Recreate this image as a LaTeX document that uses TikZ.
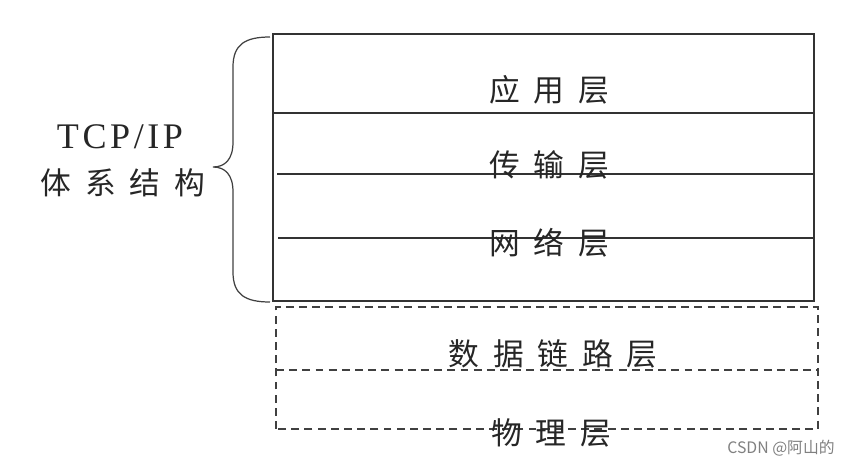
\documentclass[tikz,border=0pt]{standalone}
\usepackage{fontspec}
\setmainfont{Liberation Serif}
\newfontfamily\cjk[LetterSpace=45]{Noto Sans CJK SC}
\newfontfamily\latinsp[LetterSpace=10]{Liberation Serif}
\newfontfamily\markfont{Noto Sans CJK SC}
\usetikzlibrary{positioning}

\tikzset{
    layer/.style={font=\cjk\fontsize{17.5}{20}\selectfont, text=black!85, inner sep=0pt},
    boxline/.style={draw=black!80, line width=0.8pt},
    dashline/.style={draw=black!75, line width=0.7pt, dash pattern=on 4.5pt off 3pt},
}

\begin{document}
\begin{tikzpicture}
        \useasboundingbox (0,0) rectangle (17.28,9.34);
        % TCP/IP part
        \draw[boxline] (5.46,3.32) rectangle (16.28,8.66);
        \draw[boxline] (5.46,7.08) -- (16.28,7.08);
        \draw[boxline] (5.54,5.86) -- (16.28,5.86);
        \draw[boxline] (5.56,4.58) -- (16.28,4.58);
        \node[layer] (app) at (10.98,7.54) {应用层};
        \node[layer] (trans) at (10.98,6.04) {传输层};
        \node[layer] (net) at (10.98,4.48) {网络层};
        % lower layers
        \draw[dashline] (5.52,0.76) rectangle (16.36,3.20);
        \draw[dashline] (5.52,1.94) -- (16.36,1.94);
        \node[layer] (link) at (11.06,2.26) {数据链路层};
        \node[layer] (phys) at (11.02,0.68) {物理层};
        % brace
        \draw[draw=black!75, line width=0.7pt] (5.40,8.60) .. controls (4.90,8.60) and (4.66,8.45) .. (4.66,8.00)
            -- (4.66,6.50) .. controls (4.66,6.15) and (4.50,6.00) .. (4.26,6.00)
            .. controls (4.50,6.00) and (4.66,5.85) .. (4.66,5.50)
            -- (4.66,3.90) .. controls (4.66,3.45) and (4.90,3.30) .. (5.40,3.30);
        \node[font=\latinsp\fontsize{20.5}{22}\selectfont, text=black!85, inner sep=0pt] (archtitle) at (2.40,6.60) {TCP/IP};
        \node[layer] (archcn) at (2.46,5.68) {体系结构};
        \node[font=\markfont\fontsize{9}{10}\selectfont, text=black!50, inner sep=0pt] (wmark) at (15.62,0.38) {CSDN @阿山的};
\end{tikzpicture}
\end{document}
